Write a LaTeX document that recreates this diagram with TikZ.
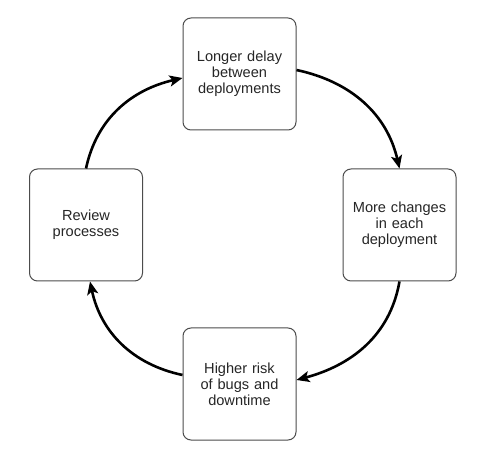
\documentclass[tikz,border=0pt]{standalone}
\usepackage{fontspec}
\setmainfont{Liberation Sans}
\usetikzlibrary{arrows.meta}
\begin{document}
\begin{tikzpicture}[x=1pt,y=1pt,
  stagebox/.style={draw=black!70, line width=1pt, rounded corners=8pt, fill=white,
    minimum width=113pt, minimum height=112pt, inner sep=0pt,
    align=center, text width=108pt,
    font=\fontsize{14.6}{16.2}\selectfont, text=black!85},
  flow/.style={line width=2.6pt, black, -{Stealth[length=13pt,width=11pt,inset=3pt]}}
]
\useasboundingbox (0,0) rectangle (493,-465);
\node[stagebox] (top) at (239.5,-74) {Longer delay\\between\\deployments};
\node[stagebox] (right) at (399.5,-225) {More changes\\in each\\deployment};
\node[stagebox] (bottom) at (239.5,-384) {Higher risk\\of bugs and\\downtime};
\node[stagebox] (left) at (86,-225) {Review\\processes};
\draw[flow] ([yshift=4pt]top.east) to[out=-12, in=103] (right.north);
\draw[flow] (right.south) to[out=-100, in=15] ([yshift=4pt]bottom.east);
\draw[flow] ([yshift=9pt]bottom.west) to[out=168, in=-78] ([xshift=4pt]left.south);
\draw[flow] (left.north) to[out=78, in=193] ([yshift=-4pt]top.west);
\end{tikzpicture}
\end{document}
